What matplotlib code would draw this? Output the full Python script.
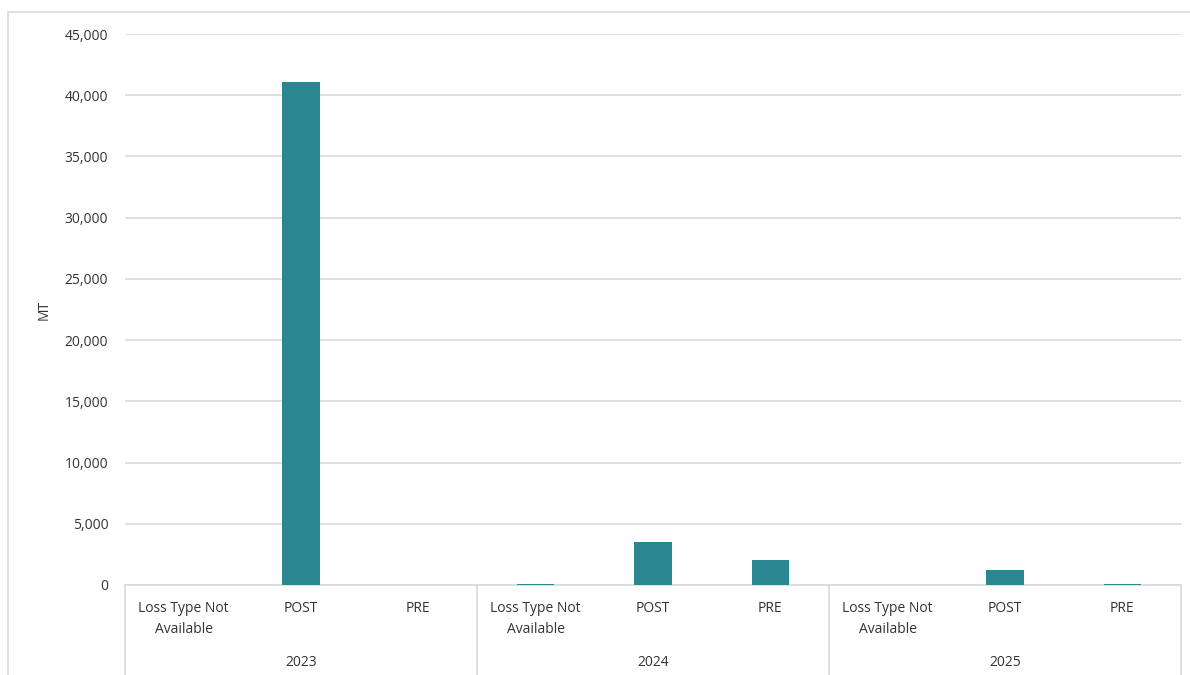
import matplotlib
matplotlib.use("Agg")
import matplotlib.pyplot as plt
from matplotlib.patches import Rectangle
from matplotlib.ticker import FuncFormatter, MultipleLocator

# Loss volumes (MT) by year and loss type
years = ["2023", "2024", "2025"]
loss_types = ["Loss Type Not\nAvailable", "POST", "PRE"]
values_2023 = [0, 41100, 0]
values_2024 = [90, 3480, 2080]
values_2025 = [0, 1250, 110]

bar_color = "#288791"
grid_color = "#d9d9d9"
text_color = "#333333"
plt.rcParams["font.family"] = ["Open Sans", "DejaVu Sans"]

W, H = 1190, 675
fig = plt.figure(figsize=(W / 100, H / 100), dpi=100)

# outer chart border
fig.patches.append(Rectangle((8 / W, -0.05), 1.2, 1 - 12 / H + 0.05,
                             transform=fig.transFigure, fill=False,
                             edgecolor="#d9d9d9", linewidth=1.2))

left, right, bottom, top = 125 / W, 1181 / W, (H - 585) / H, 1 - 34 / H
ax = fig.add_axes([left, bottom, right - left, top - bottom])

all_values = values_2023 + values_2024 + values_2025
positions = list(range(len(all_values)))
ax.bar(positions, all_values, width=0.32, color=bar_color, zorder=3)

ax.set_xlim(-0.5, len(all_values) - 0.5)
ax.set_ylim(0, 45000)
ax.yaxis.set_major_locator(MultipleLocator(5000))
ax.yaxis.set_major_formatter(FuncFormatter(lambda v, p: f"{int(v):,}"))
ax.grid(axis="y", color=grid_color, linewidth=1.2, zorder=0)
ax.tick_params(axis="y", length=0, pad=12, labelsize=10, labelcolor=text_color)
ax.set_xticks([])
for s in ["top", "right", "left"]:
    ax.spines[s].set_visible(False)
ax.spines["bottom"].set_color(grid_color)
ax.spines["bottom"].set_linewidth(1.2)
ax.set_ylabel("MT", fontsize=10, color=text_color)
ax.yaxis.set_label_coords((52 - 125) / (1181 - 125), 0.5)

# multi-level category axis
trans = ax.get_xaxis_transform()
px = 1 / (585 - 34)  # one pixel in axes-height units
for i, pos in enumerate(positions):
    ax.text(pos, -16 * px, loss_types[i % len(loss_types)], transform=trans,
            ha="center", va="top", multialignment="center", fontsize=10,
            color=text_color, linespacing=1.55, clip_on=False)
n = len(loss_types)
for g, yr in enumerate(years):
    center = g * n + (n - 1) / 2
    ax.text(center, -70 * px, yr, transform=trans, ha="center", va="top",
            fontsize=10, color=text_color, clip_on=False)
for g in range(len(years) + 1):
    xs = g * n - 0.5
    ax.plot([xs, xs], [0, -100 * px], transform=trans, color=grid_color,
            linewidth=1.2, clip_on=False)

fig.savefig("out.png", dpi=100)
